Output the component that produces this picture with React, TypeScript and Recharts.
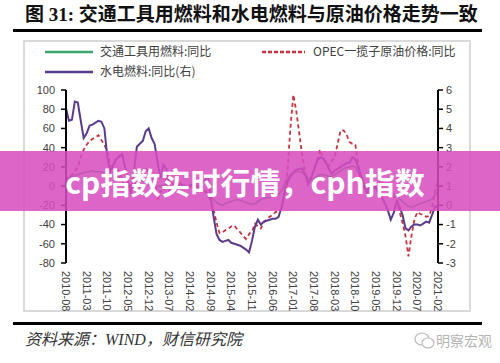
import React from "react";
import { Line, LineChart, XAxis, YAxis } from "recharts";

// monthly, 2010-08 .. 2021-02
const START_YEAR = 2010;
const START_MONTH = 8;
const MONTH_COUNT = 127;

const months: string[] = [];
for (let i = 0; i < MONTH_COUNT; i++) {
  const m = START_MONTH - 1 + i;
  const y = START_YEAR + Math.floor(m / 12);
  months.push(`${y}-${String((m % 12) + 1).padStart(2, "0")}`);
}

// 交通工具用燃料:同比 (left axis, %)
const transportFuel = [
  8, 9, 10, 11, 12, 13, 14, 15, 15, 16, 15, 15, 15, 14, 13, 11, 10, 9, 10, 6,
  2, 0, -2, 1, 4, 6, 5, 3, 1, 0, 2, -1, 0, 1, 2, 0, -1, -2, -1, 0,
  1, 0, 0, -1, -2, -3, -4, -6, -8, -11, -14, -17, -19, -20, -18, -17, -16, -15, -14, -15,
  -16, -17, -18, -19, -18, -16, -14, -13, -12, -12, -11, -10, -9, -5, 2, 8, 12, 14, 15, 15,
  14, 12, 8, 7, 8, 10, 12, 12, 11, 10, 10, 12, 14, 16, 18, 19, 20, 21, 20, 14,
  8, 2, -2, -1, -2, -3, -4, -3, -2, -3, -6, -8, -10, -13, -16, -19, -21, -22, -21, -19,
  -18, -17, -16, -15, -13, -9, -6,
];

// OPEC一揽子原油价格:同比 (left axis, %)
const opecBasket = [
  5, 10, 12, 15, 20, 30, 38, 43, 47, 49, 51, 53, 48, 43, 36, 22, 18, 17, 16, 8,
  -4, -2, 2, 5, 8, 12, 16, 20, 12, 6, 10, -14, -5, -6, 10, 4, 3, 1, 0, 2,
  -1, -2, -1, 1, 3, 2, 0, -3, -8, -16, -25, -38, -49, -48, -46, -44, -42, -41, -45, -48,
  -52, -55, -50, -47, -39, -42, -44, -38, -34, -32, -30, -27, -26, -24, -5, 15, 60, 95, 78, 55,
  32, 15, 3, 10, 17, 26, 38, 30, 24, 21, 26, 30, 44, 58, 58, 54, 46, 44, 43, 22,
  2, -2, -5, -3, -2, -2, 4, 7, -8, -9, -10, -11, -12, -27, -38, -52, -73, -52, -35, -27,
  -29, -30, -32, -31, -22, -5, 5,
];

// 水电燃料:同比(右) (right axis, %)
const utilityFuel = [
  5.05, 4.4, 4.45, 5.4, 5.35, 4.4, 3.5, 3.75, 4.15, 4.2, 4.3, 4.4, 4.35, 4.0, 2.5, 1.75, 2.1, 2.4, 2.55, 2.65,
  2.0, 1.25, 0.6, 1.75, 3.05, 3.2, 3.35, 3.85, 4.0, 3.5, 3.2, 2.25, 1.4, 2.1, 1.9, 0.7, 0.8, 1.0, 1.15, 1.1,
  0.95, 0.9, 1.05, 1.1, 1.0, 0.95, 1.1, 1.3, 1.5, 0.4, -0.6, -1.5, -1.8, -1.9, -1.85, -1.8, -1.95, -2.0, -2.05, -2.1,
  -2.2, -2.3, -2.45, -1.85, -1.1, -0.75, -1.0, -0.85, -0.8, -0.75, -0.7, -0.7, -0.6, -0.1, 0.6, 1.2, 1.5, 1.7, 1.85, 1.9,
  1.9, 1.6, 1.1, 1.4, 1.85, 2.3, 2.5, 2.45, 2.25, 1.9, 1.65, 1.8, 1.9, 2.0, 2.1, 2.2, 2.2, 2.5, 2.4, 2.0,
  1.5, 1.05, 0.6, 1.25, 1.1, 0.9, 0.6, 0.4, 0.1, -0.25, -0.75, -0.4, 0.2, -0.1, -0.5, -1.2, -1.3, -1.1, -1.0, -1.0,
  -1.05, -0.95, -0.85, -0.9, -0.5, -0.05, -0.1,
];

const leftTicks = [-80, -60, -40, -20, 0, 20, 40, 60, 80, 100];
const rightTicks = [-3, -2, -1, 0, 1, 2, 3, 4, 5, 6];

const GREEN = "#3aa66a";
const RED = "#c8323c";
const PURPLE = "#5b3a8c";
const CJK = '"Noto Sans CJK SC", "Noto Sans", sans-serif';
const TICK_STYLE = { fill: "#404040", fontSize: 11, fontFamily: '"Liberation Sans", Arial, sans-serif' };

const chartData = months.map((month, i) => ({
  month,
  transport: transportFuel[i],
  opec: opecBasket[i],
  utility: utilityFuel[i],
}));

function MonthTick({ x, y, payload }: any) {
  return (
    <text
      x={x}
      y={y}
      dy="0.35em"
      textAnchor="start"
      transform={`rotate(90, ${x}, ${y})`}
      fill="#404040"
      fontSize={11}
      fontFamily='"Liberation Sans", Arial, sans-serif'
    >
      {payload.value}
    </text>
  );
}

function ChartLegend() {
  return (
    <svg width={500} height={90} style={{ position: "absolute", left: 0, top: 0 }}>
      <line x1={45} x2={93} y1={52} y2={52} stroke={GREEN} strokeWidth={2.5} />
      <text x={100} y={56} fontSize={12} fill="#404040" fontFamily={CJK}>
        交通工具用燃料:同比
      </text>
      <line x1={262} x2={305} y1={52} y2={52} stroke={RED} strokeWidth={2.5} strokeDasharray="4 2" />
      <text x={313} y={56} fontSize={12} fill="#404040" fontFamily={CJK}>
        OPEC一揽子原油价格:同比
      </text>
      <line x1={45} x2={93} y1={72} y2={72} stroke={PURPLE} strokeWidth={2.5} />
      <text x={100} y={76} fontSize={12} fill="#404040" fontFamily={CJK}>
        水电燃料:同比(右)
      </text>
    </svg>
  );
}

export default function App() {
  return (
    <div
      style={{
        position: "absolute",
        left: 0,
        top: 0,
        width: 500,
        height: 363,
        background: "#fff",
        overflow: "hidden",
        fontFamily: CJK,
      }}
    >
      <div
        style={{
          position: "absolute",
          left: 25,
          top: 3,
          width: 460,
          height: 24,
          lineHeight: "24px",
          fontSize: 19,
          fontWeight: 700,
          color: "#111",
          whiteSpace: "nowrap",
          fontFamily: '"Liberation Serif", "Noto Sans CJK SC", serif',
        }}
      >
        图 31: 交通工具用燃料和水电燃料与原油价格走势一致
      </div>
      <div style={{ position: "absolute", left: 13, top: 29, width: 469, height: 3, background: "#000" }} />
      <div
        style={{
          position: "absolute",
          left: 23,
          top: 40,
          width: 448,
          height: 272,
          border: "2px solid #d9d9d9",
          boxSizing: "border-box",
        }}
      />

      <div style={{ position: "absolute", left: 0, top: 0 }}>
        <LineChart
          width={500}
          height={320}
          data={chartData}
          margin={{ top: 90, right: 22, left: 26, bottom: 7 }}
        >
          <XAxis
            dataKey="month"
            interval={6}
            axisLine={false}
            tickLine={false}
            height={50}
            tick={<MonthTick />}
          />
          <YAxis
            yAxisId="left"
            domain={[-80, 100]}
            ticks={leftTicks}
            width={40}
            axisLine={{ stroke: "#000", strokeWidth: 2 }}
            tickLine={{ stroke: "#000", strokeWidth: 1.5 }}
            tickSize={5}
            tickMargin={6}
            tick={TICK_STYLE}
            allowDataOverflow
          />
          <YAxis
            yAxisId="right"
            orientation="right"
            domain={[-3, 6]}
            ticks={rightTicks}
            width={40}
            axisLine={{ stroke: "#000", strokeWidth: 2 }}
            tickLine={{ stroke: "#000", strokeWidth: 1.5 }}
            tickSize={5}
            tickMargin={3}
            tick={TICK_STYLE}
            allowDataOverflow
          />
          <Line
            yAxisId="left"
            type="linear"
            dataKey="transport"
            stroke={GREEN}
            strokeWidth={1.6}
            dot={false}
            isAnimationActive={false}
          />
          <Line
            yAxisId="left"
            type="linear"
            dataKey="opec"
            stroke={RED}
            strokeWidth={1.8}
            strokeDasharray="4 3"
            dot={false}
            isAnimationActive={false}
          />
          <Line
            yAxisId="right"
            type="linear"
            dataKey="utility"
            stroke={PURPLE}
            strokeWidth={2}
            dot={false}
            isAnimationActive={false}
          />
        </LineChart>
      </div>

      <ChartLegend />

      <div
        style={{
          position: "absolute",
          left: 0,
          top: 151,
          width: 500,
          height: 60,
          background: "rgba(214, 76, 190, 0.86)",
        }}
      />
      <div
        style={{
          position: "absolute",
          left: 0,
          top: 151,
          width: 490,
          height: 60,
          lineHeight: "60px",
          textAlign: "center",
          color: "#fff",
          fontSize: 30,
          fontWeight: 700,
          whiteSpace: "nowrap",
        }}
      >
        cp指数实时行情，cph指数
      </div>

      <div style={{ position: "absolute", left: 13, top: 322, width: 469, height: 3, background: "#000" }} />
      <div
        style={{
          position: "absolute",
          left: 25,
          top: 330,
          height: 20,
          lineHeight: "20px",
          fontSize: 16,
          fontStyle: "italic",
          color: "#333",
          whiteSpace: "nowrap",
          fontFamily: '"Liberation Serif", "Noto Sans CJK SC", serif',
        }}
      >
        资料来源：WIND，财信研究院
      </div>
      <svg width={24} height={20} style={{ position: "absolute", left: 413, top: 331 }}>
        <ellipse cx={9} cy={8} rx={7} ry={6} fill="none" stroke="#bbb" strokeWidth={1.2} />
        <ellipse cx={15} cy={12} rx={6} ry={5} fill="#fff" stroke="#bbb" strokeWidth={1.2} />
      </svg>
      <div
        style={{
          position: "absolute",
          left: 436,
          top: 331,
          height: 18,
          lineHeight: "18px",
          fontSize: 14,
          color: "#b4b4b4",
          whiteSpace: "nowrap",
        }}
      >
        明察宏观
      </div>
    </div>
  );
}
